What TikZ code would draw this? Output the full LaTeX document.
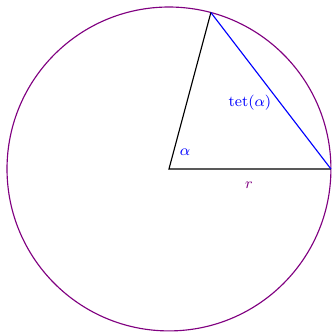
\documentclass[tikz,border=0pt]{standalone}
\begin{document}
\begin{tikzpicture}[semithick]
\useasboundingbox (-3.13,-3.02) rectangle (3.02,3.13);
\tikzset{lbl/.style={font=\footnotesize}}
\coordinate (O) at (0,0);
\coordinate (A) at (75:3);
\coordinate (B) at (0:3);
\node[draw=violet, circle, minimum size=6cm, inner sep=0pt] (C) at (O) {};
\draw (B) -- (O) -- (A);
\draw[blue] (A) -- (B);
\node[lbl, text=blue] (al) at (0.3,0.31) {$\alpha$};
\node[lbl, text=blue] (t) at (1.5,1.22) {tet($\alpha$)};
\node[lbl, text=violet] (r) at (1.48,-0.3) {$r$};
\end{tikzpicture}
\end{document}
